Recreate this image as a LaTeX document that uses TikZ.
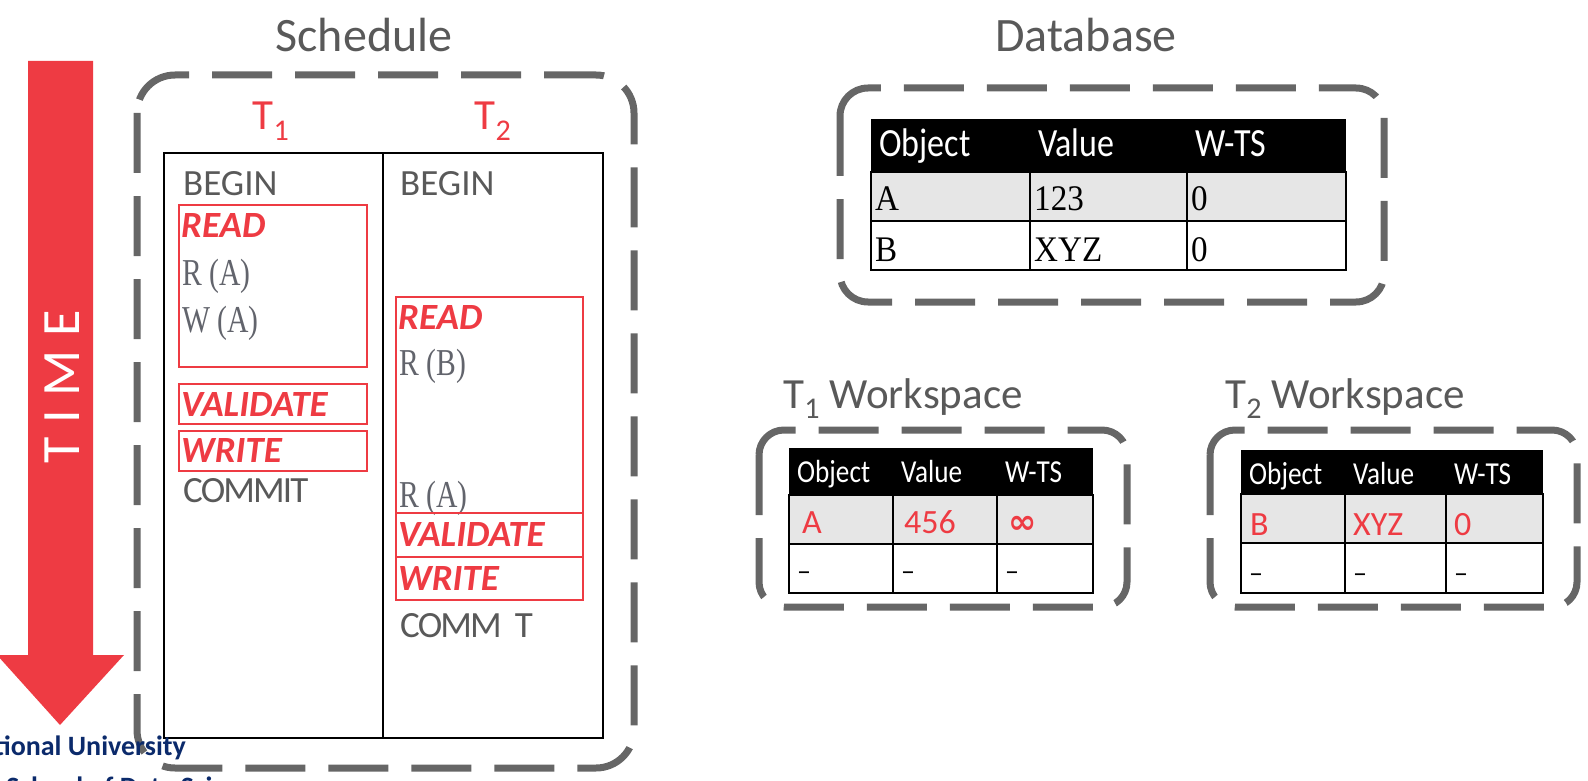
\documentclass[tikz,border=0pt]{standalone}
\usepackage{fontspec}
\setmainfont{Carlito}
\newfontfamily\hdrfont[FakeStretch=0.85]{Carlito}
\newfontfamily\opfont[FakeStretch=0.78]{Liberation Serif}
\newfontfamily\valfont[FakeStretch=0.92]{Liberation Serif}
\newfontfamily\timefont[LetterSpace=25]{Carlito}
\newfontfamily\symbfont{DejaVu Sans}
\definecolor{tred}{HTML}{EE3B43}
\definecolor{boxgray}{HTML}{666666}
\definecolor{txtgray}{HTML}{595959}
\definecolor{opgray}{HTML}{62646C}
\definecolor{rowgray}{HTML}{E6E6E6}
\definecolor{uniblue}{HTML}{0B2A6B}

\begin{document}
\begin{tikzpicture}[
    x=1pt, y=-1pt,
    every node/.style={inner sep=0pt},
    title/.style={anchor=base, text=txtgray, font=\fontsize{48}{52}\selectfont},
    wstitle/.style={anchor=base, text=txtgray, font=\fontsize{43}{46}\selectfont},
    dashbox/.style={draw=boxgray, line width=7pt, dash pattern=on 60pt off 23pt, rounded corners=#1},
    tlabel/.style={anchor=base, text=tred, font=\fontsize{43}{46}\selectfont},
    cmd/.style={anchor=base west, text=txtgray, font=\fontsize{37}{40}\selectfont},
    phase/.style={anchor=base west, text=tred, font=\fontsize{37}{40}\selectfont\bfseries\itshape},
    phasebox/.style={draw=tred, line width=2pt},
    op/.style={anchor=base west, text=opgray, font=\opfont\fontsize{38}{40}\selectfont},
    cell/.style={draw=black, line width=1.5pt},
    dbhdr/.style={anchor=base west, text=white, font=\hdrfont\fontsize{40}{44}\selectfont},
    dbval/.style={anchor=base west, text=black, font=\valfont\fontsize{36}{38}\selectfont},
    wshdr/.style={anchor=base west, text=white, font=\hdrfont\fontsize{32}{36}\selectfont},
    wsval/.style={anchor=base west, text=tred, font=\fontsize{34}{36}\selectfont},
    wsnone/.style={anchor=base west, text=black, font=\fontsize{28}{32}\selectfont}
]
\useasboundingbox (0,0) rectangle (1588,781);

% Time arrow
\fill[tred] (28,61) -- (93,61) -- (93,655) -- (124,655) -- (60,725) -- (-3,655) -- (28,655) -- cycle;
\node[rotate=90, text=white, font=\timefont\fontsize{54}{58}\selectfont] (time) at (62,387) {TIME};

% Schedule
\node[title] (sched) at (364,52) {Schedule};
\draw[dashbox=38pt] (137,75) rectangle (634,768);
\node[tlabel] (t1) at (271,130) {T\textsubscript{1}};
\node[tlabel] (t2) at (493,130) {T\textsubscript{2}};
\draw[line width=1.5pt] (164,153) rectangle (603,738);
\draw[line width=1.5pt] (383,153) -- (383,738);

% T1
\node[cmd] (begin1) at (183,195) {BEGIN};
\draw[phasebox] (179,205) rectangle (367,367);
\node[phase] (read1) at (181,237) {READ};
\node[op] (ra1) at (182,285) {R (A)};
\node[op] (wa1) at (182,332) {W (A)};
\draw[phasebox] (179,384) rectangle (367,424);
\node[phase] (val1) at (181,416) {VALIDATE};
\draw[phasebox] (179,431) rectangle (367,471);
\node[phase] (write1) at (181,462) {WRITE};
\node[cmd] (commit1) at (183,502) {\addfontfeature{LetterSpace=-5}COMMIT};

% T2
\node[cmd] (begin2) at (400,195) {BEGIN};
\draw[phasebox] (396,297) rectangle (583,513);
\node[phase] (read2) at (398,329) {READ};
\node[op] (rb2) at (399,375) {R (B)};
\node[op] (ra2) at (399,507) {R (A)};
\draw[phasebox] (396,513) rectangle (583,557);
\node[phase] (val2) at (398,546) {VALIDATE};
\draw[phasebox] (396,557) rectangle (583,600);
\node[phase] (write2) at (398,590) {WRITE};
\node[cmd] (commit2) at (400,637) {\addfontfeature{LetterSpace=-5}COMM\ \ T};

% Database
\node[title] (dbtitle) at (1086,52) {Database};
\draw[dashbox=28pt] (840,88) rectangle (1384,302);
\fill[black] (871,119) rectangle (1346,172);
\fill[rowgray] (871,172) rectangle (1346,221);
\draw[cell] (871,172) rectangle (1346,270);
\draw[cell] (871,221) -- (1346,221);
\foreach \x in {1030,1187} \draw[cell] (\x,172) -- (\x,270);
\node[dbhdr] (dbobj) at (879,157) {Object};
\node[dbhdr] (dbval) at (1038,157) {Value};
\node[dbhdr] (dbwts) at (1195,157) {W-TS};
\node[dbval] (dba) at (875,211) {A};
\node[dbval] (dba2) at (1034,211) {123};
\node[dbval] (dba3) at (1191,211) {0};
\node[dbval] (dbb) at (875,261) {B};
\node[dbval] (dbb2) at (1034,261) {XYZ};
\node[dbval] (dbb3) at (1191,261) {0};

% T1 workspace
\node[wstitle] (ws1title) at (903,408) {T\textsubscript{1} Workspace};
\draw[dashbox=25pt] (759,430) rectangle (1127,607);
\fill[black] (789,448) rectangle (1093,495);
\fill[rowgray] (789,495) rectangle (1093,544);
\draw[cell] (789,495) rectangle (1093,593);
\draw[cell] (789,544) -- (1093,544);
\foreach \x in {893,997} \draw[cell] (\x,495) -- (\x,593);
\node[wshdr] (ws1obj) at (797,482) {Object};
\node[wshdr] (ws1val) at (901,482) {Value};
\node[wshdr] (ws1wts) at (1005,482) {W-TS};
\node[wsval] (ws1a) at (802,533) {A};
\node[wsval] (ws1a2) at (904,533) {456};
\node[wsval] (ws1a3) at (1008,533) {\symbfont\bfseries ∞};
\node[wsnone] (ws1n) at (797,580) {–};
\node[wsnone] (ws1n2) at (901,580) {–};
\node[wsnone] (ws1n3) at (1005,580) {–};

% T2 workspace
\node[wstitle] (ws2title) at (1345,408) {T\textsubscript{2} Workspace};
\draw[dashbox=25pt] (1210,430) rectangle (1577,607);
\fill[black] (1241,450) rectangle (1543,494);
\fill[rowgray] (1241,494) rectangle (1543,543);
\draw[cell] (1241,494) rectangle (1543,593);
\draw[cell] (1241,543) -- (1543,543);
\foreach \x in {1345,1446} \draw[cell] (\x,494) -- (\x,593);
\node[wshdr] (ws2obj) at (1249,484) {Object};
\node[wshdr] (ws2val) at (1353,484) {Value};
\node[wshdr] (ws2wts) at (1454,484) {W-TS};
\node[wsval] (ws2b) at (1250,535) {B};
\node[wsval] (ws2b2) at (1353,535) {XYZ};
\node[wsval] (ws2b3) at (1454,535) {0};
\node[wsnone] (ws2n) at (1249,582) {–};
\node[wsnone] (ws2n2) at (1353,582) {–};
\node[wsnone] (ws2n3) at (1454,582) {–};

% Logo text
\node[anchor=base east, text=uniblue, font=\bfseries\fontsize{28}{30}\selectfont] (uni) at (186,755) {National University};
\node[anchor=base west, text=uniblue, font=\bfseries\fontsize{28}{30}\selectfont] (sds) at (6,796) {School of Data Science};
\end{tikzpicture}
\end{document}
